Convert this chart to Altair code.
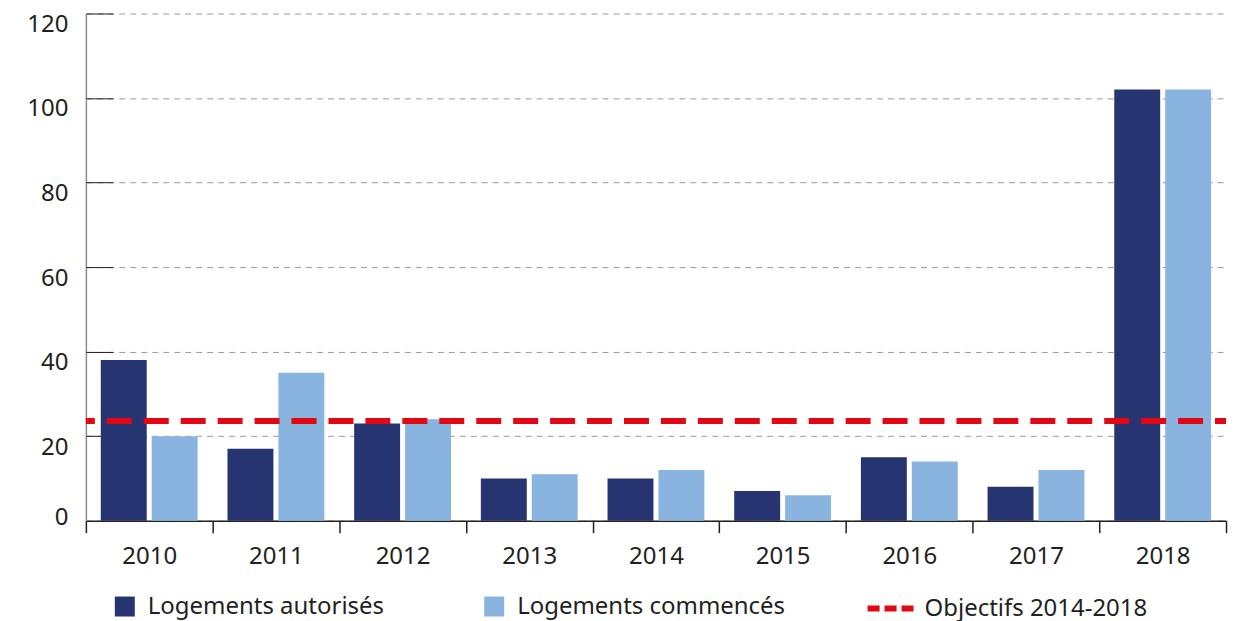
import altair as alt
import pandas as pd

years = ["2010", "2011", "2012", "2013", "2014", "2015", "2016", "2017", "2018"]
autorises = [38, 17, 23, 10, 10, 7, 15, 8, 102]
commences = [20, 35, 24, 11, 12, 6, 14, 12, 102]
series = ["Logements autorisés", "Logements commencés"]
objectif_label = "Objectifs 2014-2018"
objectif_value = 23.6
y_ticks = [0, 20, 40, 60, 80, 100, 120]

rows = []
for i, y in enumerate(years):
    rows.append({"annee": y, "serie": series[0], "valeur": autorises[i]})
    rows.append({"annee": y, "serie": series[1], "valeur": commences[i]})
bars_df = pd.DataFrame(rows)
obj_df = pd.DataFrame({"objectif": [objectif_value], "label": [objectif_label]})

FONT = "Noto Sans"
TXT = "#231F20"
DARK = "#263472"
LIGHT = "#8AB4E0"
RED = "#E30613"

yscale = alt.Scale(domain=[0, 120], nice=False)

bars = alt.Chart(bars_df).mark_bar().encode(
    x=alt.X("annee:N", sort=years,
            scale=alt.Scale(paddingInner=0, paddingOuter=0),
            axis=alt.Axis(title=None, labelAngle=0, tickBand="extent", tickSize=12,
                          tickColor=TXT, tickWidth=1.5, domainColor=TXT, domainWidth=1.5,
                          labelFontSize=24, labelFont=FONT, labelColor=TXT,
                          labelPadding=12, grid=False)),
    xOffset=alt.XOffset("serie:N", sort=series,
                        scale=alt.Scale(paddingInner=0.098, paddingOuter=0.293)),
    y=alt.Y("valeur:Q", scale=yscale,
            axis=alt.Axis(title=None, values=y_ticks, ticks=False, tickSize=0,
                          labelPadding=18, labelFontSize=24, labelFont=FONT,
                          labelColor=TXT, labelBaseline="middle",
                          labelOffset=alt.expr("datum.value == 0 ? -3 : 11"),
                          domainColor="#8c8c8c", domainWidth=1.5,
                          grid=True, gridColor="#9a9a9a", gridDash=[6, 5],
                          gridWidth=1)),
    color=alt.Color("serie:N", sort=series,
                    scale=alt.Scale(domain=series, range=[DARK, LIGHT]),
                    legend=alt.Legend(title=None, orient="none", legendX=27, legendY=582,
                                      direction="horizontal", symbolType="square",
                                      symbolSize=400, symbolStrokeWidth=0,
                                      symbolOpacity=1,
                                      labelFontSize=24, labelFont=FONT, labelColor=TXT,
                                      labelOffset=11, columnPadding=98,
                                      labelLimit=400)),
)

rule = alt.Chart(obj_df).mark_rule(strokeDash=[25, 12], strokeDashOffset=14,
                                   strokeWidth=6).encode(
    y=alt.Y("objectif:Q", scale=yscale,
            axis=alt.Axis(title=None, orient="left", offset=-27, values=y_ticks[1:],
                          ticks=True, tickSize=27, tickColor=TXT, tickWidth=1,
                          labels=False, domain=False, grid=False)),
    stroke=alt.Stroke("label:N",
                      scale=alt.Scale(domain=[objectif_label], range=[RED]),
                      legend=alt.Legend(title=None, orient="none", legendX=780, legendY=570,
                                        symbolType="stroke", symbolSize=2116,
                                        symbolStrokeWidth=6, symbolDash=[12, 5],
                                        labelFontSize=24, labelFont=FONT, labelColor=TXT,
                                        labelOffset=8, labelLimit=400)),
)

chart = alt.layer(bars, rule).resolve_axis(y="independent").properties(
    width=1142, height=508,
    autosize=alt.AutoSizeParams(type="none"),
    padding={"left": 78, "top": 5, "right": 12, "bottom": 105},
    background="white",
).configure_view(stroke=None)

chart.save("out.html", embed_options={"renderer": "svg", "actions": False})
